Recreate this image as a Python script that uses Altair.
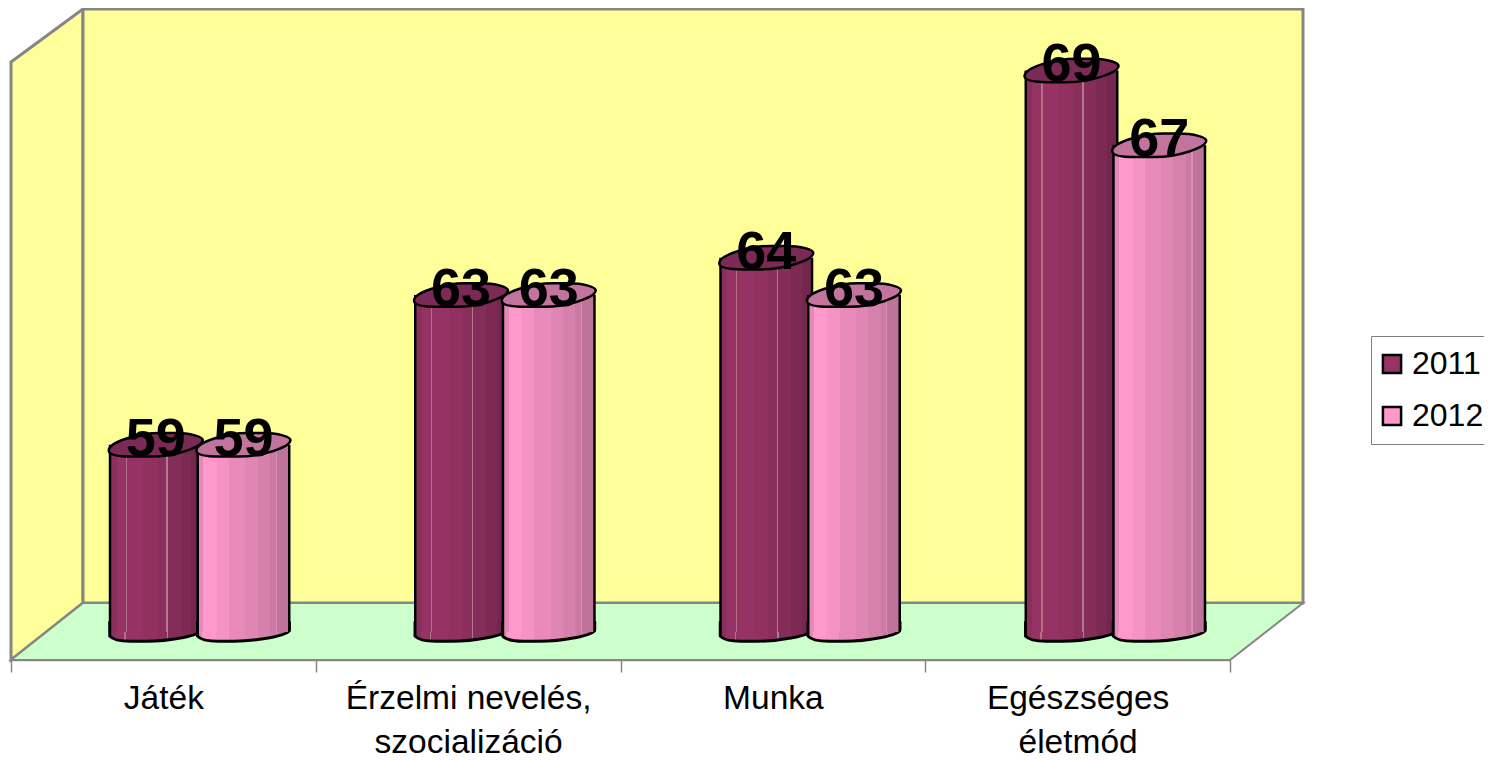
import altair as alt
import pandas as pd

categories = ["Játék", "Érzelmi nevelés,|szocializáció", "Munka", "Egészséges|életmód"]
series_names = ["2011", "2012"]
values_2011 = [59, 63, 64, 69]
values_2012 = [59, 63, 63, 67]
axis_min = 54
axis_max = 70

FONT = "Liberation Sans"
W, H = 1476, 752
GRAY = "#868686"

rows = []
for c, a, b in zip(categories, values_2011, values_2012):
    rows.append({"cat": c, "series": "2011", "value": a, "base": axis_min})
    rows.append({"cat": c, "series": "2012", "value": b, "base": axis_min})
df = pd.DataFrame(rows)


def bands(stops):
    out = []
    for i, (off, col) in enumerate(stops):
        out.append(alt.GradientStop(offset=off, color=col))
        nxt = stops[i + 1][0] if i + 1 < len(stops) else 1
        out.append(alt.GradientStop(offset=nxt, color=col))
    return alt.LinearGradient(gradient="linear", x1=0, x2=1, y1=0, y2=0, stops=out)


grad = {
    "2011": bands([(0, "#8a2f5c"), (0.06, "#963365"), (0.16, "#b0708a"), (0.175, "#963365"),
                   (0.36, "#903160"), (0.52, "#8a2f5c"), (0.62, "#b07a8c"), (0.635, "#842d58"),
                   (0.78, "#7c2a53"), (0.9, "#74274e"), (1.0, "#74274e")]),
    "2012": bands([(0, "#e58ab8"), (0.05, "#ff99cc"), (0.2, "#f493c4"), (0.34, "#e88bbb"),
                   (0.52, "#df86b3"), (0.66, "#d680ac"), (0.8, "#cc7aa4"), (0.86, "#d98fb0"),
                   (0.875, "#c0739a"), (1.0, "#c0739a")]),
}
cap_col = {"2011": "#7a2a55", "2012": "#c2749f"}
legend_colors = ["#993366", "#FF99CC"]

top_path = ("M-1,0.12 C-1,0.2 -0.85,0.25 -0.5,0.25 L-0.1,0.25 C0.4,0.25 1,0.05 1,-0.1 "
            "C1,-0.17 0.75,-0.25 0.4,-0.25 L0.1,-0.25 C-0.4,-0.25 -1,-0.05 -1,0.12 Z")
bot_path = ("M-1,0.09 C-0.95,0.15 -0.8,0.2 -0.55,0.2 L-0.2,0.2 C0.25,0.2 1,0.08 1,-0.05 "
            "L1,-0.2 L-1,-0.2 Z")

# ---------- frame (walls and floor), in a pixel scale ----------
px_x = alt.Scale(domain=[8, 8 + W], range=[0, W])
px_y = alt.Scale(domain=[8, 8 + H], range=[0, H])

side = alt.Chart(pd.DataFrame({"x": [11, 83], "y": [62, 9], "y2": [660, 603]})).mark_area(
    fill="#FFFF99", stroke=GRAY, strokeWidth=3
).encode(x=alt.X("x:Q", scale=px_x, axis=None), y=alt.Y("y:Q", scale=px_y, axis=None), y2="y2:Q")

back = alt.Chart(pd.DataFrame({"x": [83], "x2": [1303], "y": [9], "y2": [603]})).mark_rect(
    fill="#FFFF99", stroke=GRAY, strokeWidth=3
).encode(x=alt.X("x:Q", scale=px_x, axis=None), x2="x2:Q",
         y=alt.Y("y:Q", scale=px_y, axis=None), y2="y2:Q")

floor = alt.Chart(pd.DataFrame({"y": [660, 603], "x": [11, 83], "x2": [1230, 1303]})).mark_area(
    orient="horizontal", fill="#CCFFCC", stroke=GRAY, strokeWidth=2
).encode(y=alt.Y("y:Q", scale=px_y, axis=None),
         x=alt.X("x:Q", scale=px_x, axis=None), x2="x2:Q")

frame = alt.layer(side, back, floor)

# ---------- cylinders ----------
x_bar = alt.X("cat:N", sort=categories, axis=None,
              scale=alt.Scale(range=[39, 1260], paddingInner=0, paddingOuter=0))
x_off = alt.XOffset("series:N", sort=series_names,
                    scale=alt.Scale(domain=series_names, paddingInner=0, paddingOuter=0.74))
y_val = alt.Y("value:Q", axis=None, scale=alt.Scale(domain=[axis_min, axis_max], range=[624, 25]))
y_base = alt.Y("base:Q", axis=None, scale=alt.Scale(domain=[axis_min, axis_max], range=[624, 25]))

layers = [
    alt.Chart(df).mark_bar(width=70).encode(
        x=x_bar, xOffset=x_off, y=y_val, y2="base:Q",
        color=alt.Color("series:N", sort=series_names,
                        scale=alt.Scale(domain=series_names, range=legend_colors),
                        legend=alt.Legend(title=None, orient="none", legendX=1363, legendY=328,
                                          symbolType="square", symbolSize=330,
                                          symbolStrokeColor="black", symbolStrokeWidth=2.5,
                                          symbolOffset=-4,
                                          labelFont=FONT, labelFontSize=32, labelColor="black",
                                          rowPadding=14, padding=9, labelOffset=4,
                                          strokeColor="#808080", fillColor="white",
                                          symbolOpacity=1, clipHeight=38)),
    )
]
for s in series_names:
    d = alt.Chart(df).transform_filter(alt.datum.series == s)
    layers += [
        d.mark_point(shape=bot_path, size=92 * 92, filled=True, fill=grad[s], stroke="black",
                     strokeWidth=3, opacity=1).encode(x=x_bar, xOffset=x_off, y=y_base),
        d.mark_bar(width=94, fill="black").encode(x=x_bar, xOffset=x_off, y=y_val, y2="base:Q"),
        d.mark_bar(width=89, fill=grad[s]).encode(x=x_bar, xOffset=x_off, y=y_val, y2="base:Q"),
        d.mark_point(shape=top_path, size=94 * 94, filled=True, fill=cap_col[s], stroke="black",
                     strokeWidth=2.5, opacity=1).encode(x=x_bar, xOffset=x_off, y=y_val),
    ]
layers.append(
    alt.Chart(df).mark_text(font=FONT, fontWeight="bold", fontSize=54, color="black",
                            baseline="alphabetic", dy=11, align="center").encode(
        x=x_bar, xOffset=x_off, y=y_val, text="value:Q")
)
bars = alt.layer(*layers)

# ---------- category axis ----------
axis_layer = alt.Chart(pd.DataFrame({"cat": categories})).mark_rule(opacity=0).encode(
    x=alt.X("cat:N", sort=categories, title=None,
            scale=alt.Scale(range=[3, 1222], paddingInner=0, paddingOuter=0),
            axis=alt.Axis(orient="bottom", offset=-100, labelAngle=0, tickBand="extent",
                          tickSize=12, tickColor=GRAY, tickWidth=1.5, domainColor=GRAY,
                          domainWidth=1.5, grid=False, labelFont=FONT, labelFontSize=33.5,
                          labelColor="black", labelPadding=10, labelLineHeight=44,
                          labelBaseline="top", labelLimit=400, zindex=1,
                          labelExpr="split(datum.label, '|')"))
)

chart = alt.layer(frame, bars, axis_layer).resolve_scale(
    x="independent", y="independent", color="independent", xOffset="independent"
).properties(
    width=W, height=H, padding=0,
    autosize=alt.AutoSizeParams(type="none"),
).configure_view(stroke=None)

chart.save("out.html", embed_options={"renderer": "svg", "actions": False})
